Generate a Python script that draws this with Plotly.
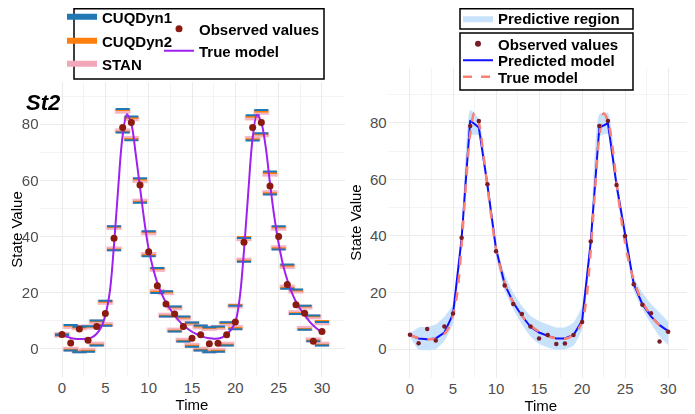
import plotly.graph_objects as go

# time grid of the observations
times = list(range(31))

obs = [5.1, 2.1, 7.1, 3.1, 8.0, 12.6, 39.4, 78.8, 80.6, 58.3, 34.6, 22.5, 16.0, 12.4, 8.0, 3.8,
       5.0, 1.8, 2.0, 5.0, 9.6, 38.0, 78.8, 80.6, 58.0, 40.0, 22.9, 15.7, 12.7, 2.7, 6.2]

# interval ends per method (upper / lower)
cuq1_up = [5.1, 8.5, 7.9, 8.1, 10.1, 17.1, 43.7, 85.4, 82.7, 60.7, 41.9, 28.8, 20.5, 15.1, 11.5, 9.4,
           8.3, 7.7, 8.0, 9.5, 15.4, 39.5, 83.2, 85.0, 63.1, 43.7, 30.0, 21.1, 15.4, 11.9, 9.6]
cuq1_lo = [4.9, -0.6, -1.2, -1.0, 1.2, 8.2, 35.1, 77.0, 74.3, 52.0, 33.0, 19.9, 11.5, 6.2, 2.6, 0.8,
           -0.6, -1.2, -1.0, 1.2, 7.0, 31.0, 74.2, 76.8, 55.0, 35.4, 21.4, 12.4, 6.8, 2.7, 1.2]
cuq2_up = [5.1, 8.2, 7.6, 7.9, 9.8, 16.8, 43.4, 85.0, 82.2, 60.3, 41.6, 28.5, 20.2, 14.8, 11.2, 9.1,
           8.0, 7.4, 7.7, 9.2, 15.6, 39.8, 82.6, 84.5, 62.6, 43.3, 29.6, 20.8, 15.1, 11.6, 9.9]
cuq2_lo = [4.9, -0.3, -0.9, -0.7, 1.5, 8.5, 35.4, 77.3, 74.7, 52.4, 33.4, 20.3, 11.8, 6.5, 2.9, 1.1,
           -0.3, -0.9, -0.7, 1.5, 7.4, 31.4, 74.6, 76.4, 55.4, 35.8, 21.8, 12.7, 7.1, 3.0, 1.5]
stan_up = [5.1, 8.0, 7.5, 7.8, 9.6, 16.6, 43.2, 84.6, 81.9, 60.0, 41.3, 28.3, 20.0, 14.6, 11.0, 9.0,
           7.8, 7.3, 7.6, 9.0, 15.3, 39.2, 82.2, 84.2, 62.2, 43.0, 29.3, 20.6, 14.9, 11.4, 9.3]
stan_lo = [4.9, -0.1, -0.7, -0.5, 1.7, 8.7, 35.6, 77.6, 74.9, 52.6, 33.6, 20.5, 12.0, 6.7, 3.1, 1.3,
           -0.1, -0.7, -0.5, 1.7, 7.6, 31.6, 74.9, 76.2, 55.6, 36.0, 22.0, 12.9, 7.3, 3.2, 1.7]

# true model, read every half time unit
t_true = [i / 2 for i in range(61)]
y_true = [5.0, 4.4, 3.9, 3.6, 3.5, 3.5, 3.7, 4.2, 5.4, 7.6, 12.0, 20.0, 37.0, 58.0, 76.0, 83.5,
          80.0, 69.5, 57.5, 45.5, 35.5, 28.8, 23.5, 19.6, 16.5, 14.0, 11.8, 10.0, 8.4, 7.2, 6.1,
          5.3, 4.6, 4.1, 3.8, 3.6, 3.7, 4.1, 5.2, 6.8, 9.5, 18.0, 35.0, 56.0, 75.0, 83.3, 80.5,
          72.0, 59.0, 47.0, 37.5, 30.0, 24.5, 20.2, 16.8, 14.2, 12.0, 10.0, 8.3, 7.0, 5.8]

# right panel: predicted model and predictive region
pred = [5.0, 3.8, 3.5, 3.8, 5.9, 12.4, 39.2, 80.8, 78.3, 58.0, 35.4, 23.0, 16.5, 11.8, 7.9, 5.9,
        4.7, 3.8, 3.8, 5.0, 10.0, 37.8, 78.3, 79.8, 58.0, 39.9, 23.0, 15.9, 11.6, 8.5, 6.4]
band_up = [5.6, 7.7, 7.9, 8.8, 11.5, 16.0, 42.0, 84.5, 81.5, 60.5, 37.5, 26.5, 20.0, 15.3, 11.8, 10.0,
           8.8, 7.7, 7.7, 9.4, 15.3, 40.5, 83.0, 83.5, 60.5, 42.5, 25.5, 20.0, 16.0, 13.0, 9.7]
band_lo = [4.5, -0.2, -0.4, 0.0, 3.0, 9.0, 36.0, 75.5, 75.5, 55.0, 33.0, 20.6, 14.2, 8.8, 4.5, 1.8,
           0.6, -0.2, 0.0, 1.2, 7.0, 35.0, 75.0, 76.0, 55.0, 37.5, 20.6, 14.2, 9.0, 4.5, 1.5]

# the page puts the figure 8px in from the window corner, so size it to what is visible
OFF = 8
W, H = 695 - OFF, 414 - OFF
FONT = "Liberation Sans, Arial, sans-serif"
C1, C2, CS = "#1f77b4", "#ff7f0e", "#f2a7b8"
OBS_L, OBS_R = "#8b1a10", "#7a1c2a"
PURPLE, BLUE, SALMON, BAND = "#a020f0", "#1010ff", "#fa8072", "#c8e2fb"


def px_x(p):
    return (p - OFF) / W


def px_y(p):
    return 1 - (p - OFF) / H


fig = go.Figure()

# left panel bars: pink STAN below, then the two CUQDyn variants
for up, lo, col, size, lw in [(stan_up, stan_lo, CS, 11, 5),
                              (cuq2_up, cuq2_lo, C2, 10, 2),
                              (cuq1_up, cuq1_lo, C1, 10, 2)]:
    fig.add_trace(go.Scatter(
        x=times + times, y=up + lo, mode="markers", showlegend=False,
        marker=dict(symbol="line-ew", size=size, line=dict(color=col, width=lw)),
        opacity=0.85 if col == CS else 1, xaxis="x", yaxis="y"))

fig.add_trace(go.Scatter(x=t_true, y=y_true, mode="lines", showlegend=False,
                         line=dict(color=PURPLE, width=2, shape="spline"), xaxis="x", yaxis="y"))
fig.add_trace(go.Scatter(x=times, y=obs, mode="markers", showlegend=False,
                         marker=dict(color=OBS_L, size=7), xaxis="x", yaxis="y"))

# right panel
fig.add_trace(go.Scatter(x=times, y=band_up, mode="lines", showlegend=False,
                         line=dict(width=0, shape="spline", smoothing=0.5), xaxis="x2", yaxis="y2"))
fig.add_trace(go.Scatter(x=times, y=band_lo, mode="lines", showlegend=False, fill="tonexty",
                         fillcolor=BAND, line=dict(width=0, shape="spline", smoothing=0.5),
                         xaxis="x2", yaxis="y2"))
fig.add_trace(go.Scatter(x=times, y=pred, mode="lines", showlegend=False,
                         line=dict(color=BLUE, width=2), xaxis="x2", yaxis="y2"))
fig.add_trace(go.Scatter(x=t_true, y=y_true, mode="lines", showlegend=False,
                         line=dict(color=SALMON, width=2.5, dash="dash", shape="spline"),
                         xaxis="x2", yaxis="y2"))
fig.add_trace(go.Scatter(x=times, y=obs, mode="markers", showlegend=False,
                         marker=dict(color=OBS_R, size=4.5), xaxis="x2", yaxis="y2"))

# legend entries, one small legend each so they sit where the original has them
entries = [
    ("CUQDyn1", dict(mode="lines", line=dict(color=C1, width=6)), 62, 17),
    ("CUQDyn2", dict(mode="lines", line=dict(color=C2, width=6)), 62, 41),
    ("STAN", dict(mode="lines", line=dict(color=CS, width=6)), 62, 64),
    ("Observed values", dict(mode="markers", marker=dict(color=OBS_L, size=7)), 159, 29),
    ("True model", dict(mode="lines", line=dict(color=PURPLE, width=2)), 159, 51),
    ("Predictive region", dict(mode="lines", fill="toself", fillcolor=BAND,
                               line=dict(width=0, color=BAND)), 458, 18.5),
    ("Observed values", dict(mode="markers", marker=dict(color=OBS_R, size=6)), 458, 44),
    ("Predicted model", dict(mode="lines", line=dict(color=BLUE, width=2)), 458, 60.5),
    ("True model", dict(mode="lines", line=dict(color=SALMON, width=2.5, dash="dash")), 458, 77),
]
legends = {}
for i, (name, kw, lx, ly) in enumerate(entries):
    key = "legend" if i == 0 else f"legend{i + 1}"
    fig.add_trace(go.Scatter(x=[None], y=[None], name=name, legend=key, showlegend=True, **kw))
    legends[key] = dict(x=px_x(lx), y=px_y(ly), xanchor="left", yanchor="middle",
                        bgcolor="rgba(0,0,0,0)", borderwidth=0,
                        font=dict(family=FONT, size=15, color="black", weight="bold"))

# legend frames (the top few pixels of the window are out of the figure's reach)
boxes = [(74, 8.8, 324, 79), (460, 8.8, 633, 29), (460, 33, 633, 90)]
shapes = [dict(type="rect", xref="paper", yref="paper", x0=px_x(a), x1=px_x(c),
               y0=px_y(d), y1=px_y(b), line=dict(color="black", width=1.5),
               fillcolor="white", layer="above") for a, b, c, d in boxes]

axis_common = dict(showline=False, zeroline=False, ticks="", showgrid=True, automargin=False,
                   gridcolor="#ebebeb", gridwidth=1,
                   tickfont=dict(family=FONT, size=15, color="#4d4d4d"))
xax = dict(axis_common, tick0=0, dtick=5,
           minor=dict(dtick=2.5, tick0=0, showgrid=True, gridcolor="#f4f4f4", gridwidth=1),
           title=dict(text="Time", font=dict(family=FONT, size=15, color="black"), standoff=2))
yax = dict(axis_common, tick0=0, dtick=20,
           minor=dict(dtick=10, tick0=0, showgrid=True, gridcolor="#f4f4f4", gridwidth=1),
           title=dict(text="State Value", font=dict(family=FONT, size=15, color="black"), standoff=4))

fig.update_layout(
    width=W, height=H, margin=dict(l=0, r=0, t=0, b=0, autoexpand=False),
    paper_bgcolor="white", plot_bgcolor="white",
    xaxis=dict(xax, domain=[px_x(39.5), px_x(344.5)], range=[-2.6, 32.6], anchor="y"),
    yaxis=dict(yax, domain=[px_y(377), px_y(82)], range=[-10, 95], anchor="x"),
    xaxis2=dict(xax, domain=[px_x(387.6), px_x(694)], range=[-2.6, 33], anchor="y2"),
    yaxis2=dict(yax, domain=[px_y(377.5), px_y(67.5)], range=[-10, 99.5], anchor="x2"),
    shapes=shapes,
    annotations=[dict(text="<b><i>St2</i></b>", xref="paper", yref="paper",
                      x=px_x(24), y=px_y(88), showarrow=False,
                      font=dict(family=FONT, size=22, color="black"))],
    **legends,
)

fig.write_html("out.html")
